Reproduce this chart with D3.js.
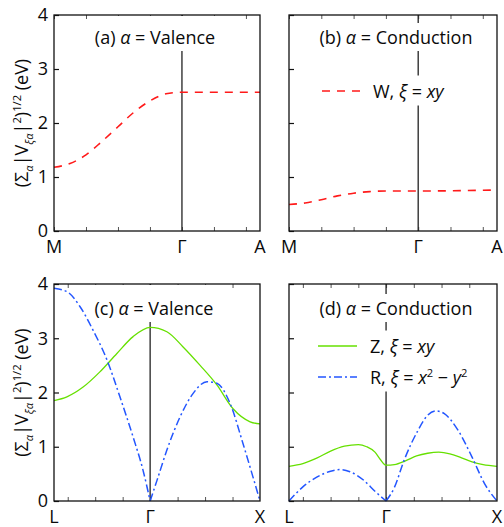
<!DOCTYPE html>
<html><head><meta charset="utf-8">
<script src="https://cdn.jsdelivr.net/npm/d3@7"></script>
<style>body{margin:0;background:#fff}svg{display:block}text{font-family:"Open Sans",sans-serif;fill:#0a0a0a}</style>
</head><body><div id="chart"></div>
<script>
// ---------- data ----------
const yTicks = [0, 1, 2, 3, 4];
const topLabels = ["M", "Γ", "A"];
const topLabelPos = [0, 4, 6.44];
const topMinor = [0, 1, 2, 3, 4, 5, 6];
const botLabels = ["L", "Γ", "X"];
const botLabelPos = [0, 3.5, 7.5];
const botMinor = [0.5, 1.5, 2.5, 3.5, 4.5, 5.5, 6.5];

// (a) Valence, W xy
const aW_x = [0, 0.5, 1.0, 1.5, 2.0, 2.5, 3.0, 3.5, 4.0, 5.0, 6.44];
const aW_y = [1.18, 1.25, 1.41, 1.66, 1.93, 2.20, 2.41, 2.54, 2.57, 2.57, 2.57];
// (b) Conduction, W xy
const bW_x = [0, 0.5, 1.0, 1.5, 2.0, 2.5, 3.0, 4.0, 5.0, 6.44];
const bW_y = [0.49, 0.52, 0.58, 0.65, 0.70, 0.73, 0.74, 0.74, 0.745, 0.76];
// (c) Valence, Z xy (green)
const cZ_x = [0, 0.47, 1.06, 1.67, 2.29, 2.88, 3.5, 4.11, 4.70, 5.32, 5.93, 6.52, 7.14, 7.5];
const cZ_y = [1.85, 1.92, 2.10, 2.38, 2.72, 3.03, 3.20, 3.12, 2.84, 2.50, 2.14, 1.70, 1.46, 1.42];
// (c) Valence, R x2-y2 (blue), split at Γ
const cR1_x = [0, 0.47, 0.95, 1.42, 1.93, 2.40, 2.88, 3.24, 3.5];
const cR1_y = [3.92, 3.86, 3.58, 3.15, 2.60, 1.92, 1.18, 0.57, 0];
const cR2_x = [3.5, 3.75, 4.11, 4.59, 5.06, 5.57, 5.93, 6.41, 6.88, 7.24, 7.5];
const cR2_y = [0, 0.38, 0.94, 1.55, 1.98, 2.20, 2.17, 1.80, 1.06, 0.45, 0];
// (d) Conduction, Z xy (green)
const dZ_x = [0, 0.5, 1.0, 1.5, 2.0, 2.5, 2.8, 3.1, 3.3, 3.5, 3.8, 4.2, 4.6, 5.0, 5.4, 5.8, 6.2, 6.6, 7.0, 7.5];
const dZ_y = [0.64, 0.69, 0.79, 0.92, 1.01, 1.04, 1.00, 0.90, 0.76, 0.66, 0.67, 0.74, 0.83, 0.88, 0.90, 0.87, 0.80, 0.72, 0.67, 0.64];
// (d) Conduction, R x2-y2 (blue), split at Γ
const dR1_x = [0, 0.5, 1.0, 1.5, 1.85, 2.2, 2.7, 3.1, 3.5];
const dR1_y = [0, 0.26, 0.44, 0.55, 0.58, 0.54, 0.38, 0.18, 0];
const dR2_x = [3.5, 3.8, 4.15, 4.65, 5.0, 5.3, 5.6, 6.1, 6.6, 7.05, 7.5];
const dR2_y = [0, 0.25, 0.75, 1.30, 1.58, 1.66, 1.61, 1.30, 0.81, 0.32, 0];

// ---------- drawing ----------
const W = 504, H = 527;
const svg = d3.select("#chart").append("svg").attr("width", W).attr("height", H);

const RED = "#ff1a1a", GREEN = "#66e000", BLUE = "#2356ff";
const styles = {
  W: {stroke: RED, width: 1.6, dash: "8,7"},
  Z: {stroke: GREEN, width: 1.3, dash: null},
  R: {stroke: BLUE, width: 1.5, dash: "8,3,2,3"}
};

function rich(g, x, y, segs, anchor, size) {
  const t = g.append("text").attr("x", x).attr("y", y).attr("font-size", size).attr("text-anchor", anchor || "start");
  let shift = 0;
  segs.forEach(s => {
    const sp = t.append("tspan").text(s.t);
    let target = 0, fs = size;
    if (s.s === "sup") { target = -0.38 * size; fs = size * 0.62; }
    if (s.s === "sub") { target = 0.25 * size; fs = size * 0.62; }
    if (target !== shift) { sp.attr("dy", target - shift); shift = target; }
    sp.attr("font-size", fs);
    if (s.i) sp.attr("font-style", "italic");
  });
  return t;
}

function whiteBox(g, node, pad, topY) {
  const b = node.getBBox();
  const y0 = topY != null ? topY : b.y - pad;
  g.insert("rect", () => node)
    .attr("x", b.x - pad).attr("y", y0)
    .attr("width", b.width + 2 * pad).attr("height", b.y + b.height + pad - y0)
    .attr("fill", "#fff");
}

const FS = 18;

function panel(cfg) {
  const g = svg.append("g");
  const x = d3.scaleLinear().domain(cfg.xdom).range([cfg.x0, cfg.x1]);
  const y = d3.scaleLinear().domain([0, 4]).range([cfg.y1, cfg.y0]);

  // ticks
  g.append("g").attr("transform", `translate(${cfg.x0},0)`)
    .call(d3.axisRight(y).tickValues(yTicks).tickSize(5).tickFormat(""))
    .call(a => { a.select(".domain").remove(); a.selectAll("line").attr("stroke", "#111").attr("stroke-width", 1.2); });
  g.append("g").attr("transform", `translate(0,${cfg.y1})`)
    .call(d3.axisTop(x).tickValues(cfg.minor).tickSize(4).tickFormat(""))
    .call(a => { a.select(".domain").remove(); a.selectAll("line").attr("stroke", "#555").attr("stroke-width", 1); });
  g.append("g").attr("transform", `translate(0,${cfg.y0})`)
    .call(d3.axisBottom(x).tickValues(cfg.minor).tickSize(4).tickFormat(""))
    .call(a => { a.select(".domain").remove(); a.selectAll("line").attr("stroke", "#555").attr("stroke-width", 1); });

  // y tick labels
  if (cfg.yLabels) {
    g.append("g").selectAll("text").data(yTicks).join("text")
      .attr("x", cfg.x0 - 6).attr("y", d => y(d)).attr("dy", "0.36em")
      .attr("text-anchor", "end").attr("font-size", FS).text(d => d);
  }
  // x labels
  g.append("g").selectAll("text").data(cfg.labels).join("text")
    .attr("x", (d, i) => x(cfg.labelPos[i])).attr("y", cfg.y1 + 22)
    .attr("text-anchor", "middle").attr("font-size", FS).text(d => d);

  // Γ line
  const gx = x(cfg.labelPos[1]);
  g.append("line").attr("x1", gx).attr("x2", gx).attr("y1", cfg.y0).attr("y2", cfg.y1)
    .attr("stroke", "#222").attr("stroke-width", 1.3);

  // title
  const tg = g.append("g");
  const title = rich(tg, cfg.tx, cfg.ty, [{t: cfg.tag + " "}, {t: "α", i: true}, {t: " = " + cfg.kind}], "middle", FS);
  whiteBox(tg, title.node(), 2, cfg.titleTop ? cfg.y0 + 1 : null);

  // legend
  if (cfg.legend) {
    const lg = g.append("g");
    cfg.legend.forEach(l => {
      const st = styles[l.key];
      lg.append("line").attr("x1", cfg.lx0).attr("x2", cfg.lx1).attr("y1", l.y).attr("y2", l.y)
        .attr("stroke", st.stroke).attr("stroke-width", st.width).attr("stroke-dasharray", st.dash);
      rich(lg, cfg.ltx, l.y + 6.5, l.segs, "start", FS);
    });
    const b = lg.node().getBBox();
    lg.insert("rect", ":first-child").attr("x", b.x - 4).attr("y", b.y - 3)
      .attr("width", b.width + 8).attr("height", b.height + 6).attr("fill", "#fff");
  }

  // curves
  const line = d3.line().x(d => x(d[0])).y(d => y(d[1])).curve(d3.curveMonotoneX);
  cfg.series.forEach(s => {
    const st = styles[s.key];
    g.append("path").datum(d3.zip(s.xs, s.ys)).attr("d", line)
      .attr("fill", "none").attr("stroke", st.stroke).attr("stroke-width", st.width)
      .attr("stroke-dasharray", st.dash);
  });

  // frame
  g.append("rect").attr("x", cfg.x0).attr("y", cfg.y0).attr("width", cfg.x1 - cfg.x0).attr("height", cfg.y1 - cfg.y0)
    .attr("fill", "none").attr("stroke", "#111").attr("stroke-width", 1.3);
}

const wSegs = [{t: "W, "}, {t: "ξ", i: true}, {t: " = "}, {t: "xy", i: true}];
const zSegs = [{t: "Z, "}, {t: "ξ", i: true}, {t: " = "}, {t: "xy", i: true}];
const rSegs = [{t: "R, "}, {t: "ξ", i: true}, {t: " = "}, {t: "x", i: true}, {t: "2", s: "sup"}, {t: " − "}, {t: "y", i: true}, {t: "2", s: "sup"}];

panel({x0: 54, x1: 260, y0: 15, y1: 231, xdom: [0, 6.44], minor: topMinor, labels: topLabels, labelPos: topLabelPos,
  yLabels: true, tag: "(a)", kind: "Valence", tx: 155, ty: 44, titleTop: true,
  series: [{key: "W", xs: aW_x, ys: aW_y}]});
panel({x0: 289, x1: 497, y0: 15, y1: 231, xdom: [0, 6.44], minor: topMinor, labels: topLabels, labelPos: topLabelPos,
  yLabels: false, tag: "(b)", kind: "Conduction", tx: 396, ty: 44,
  legend: [{key: "W", y: 91, segs: wSegs}], lx0: 322, lx1: 360, ltx: 373,
  series: [{key: "W", xs: bW_x, ys: bW_y}]});
panel({x0: 54, x1: 260, y0: 284, y1: 501, xdom: [0, 7.5], minor: botMinor, labels: botLabels, labelPos: botLabelPos,
  yLabels: true, tag: "(c)", kind: "Valence", tx: 154, ty: 315, titleTop: true,
  series: [{key: "Z", xs: cZ_x, ys: cZ_y}, {key: "R", xs: cR1_x, ys: cR1_y}, {key: "R", xs: cR2_x, ys: cR2_y}]});
panel({x0: 289, x1: 497, y0: 284, y1: 501, xdom: [0, 7.5], minor: botMinor, labels: botLabels, labelPos: botLabelPos,
  yLabels: false, tag: "(d)", kind: "Conduction", tx: 396, ty: 315,
  legend: [{key: "Z", y: 346, segs: zSegs}, {key: "R", y: 377, segs: rSegs}], lx0: 318, lx1: 357, ltx: 370,
  series: [{key: "Z", xs: dZ_x, ys: dZ_y}, {key: "R", xs: dR1_x, ys: dR1_y}, {key: "R", xs: dR2_x, ys: dR2_y}]});

// y-axis titles
const ySegs = [{t: "(Σ"}, {t: "α", i: true, s: "sub"}, {t: "|V"}, {t: "ξα", i: true, s: "sub"}, {t: "|"}, {t: "2", s: "sup"}, {t: ")"}, {t: "1/2", s: "sup"}, {t: " (eV)"}];
[123, 392.5].forEach(cy => {
  const g = svg.append("g").attr("transform", `translate(28,${cy}) rotate(-90)`);
  rich(g, 0, 0, ySegs, "middle", FS);
});
</script></body></html>
